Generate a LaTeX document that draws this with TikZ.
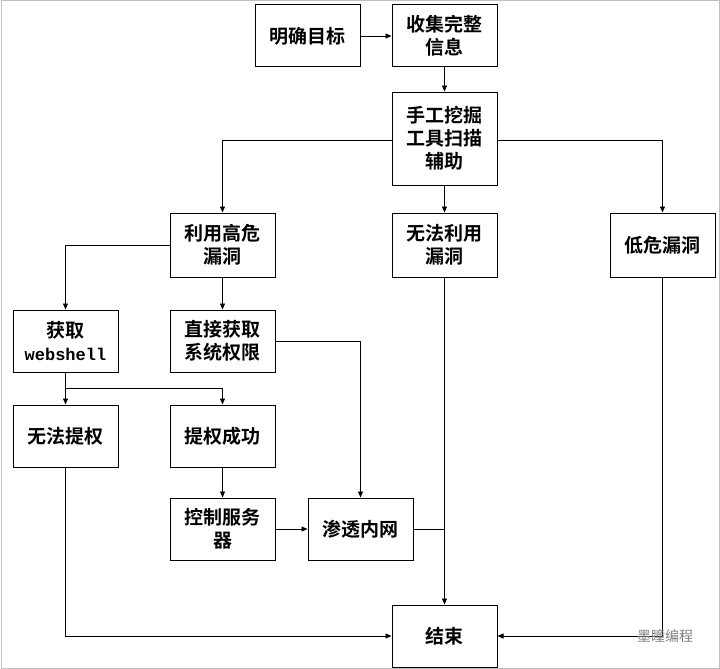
\documentclass[tikz,border=0pt]{standalone}
\usepackage{fontspec}
\newfontfamily\cjk{Noto Sans CJK SC}[BoldFont={* Bold}]
\usetikzlibrary{arrows.meta}
\begin{document}
\begin{tikzpicture}[x=1pt,y=-1pt,
  box/.style={draw,line width=1pt,minimum width=105pt,align=center,font=\cjk\bfseries\fontsize{19}{23}\selectfont,inner sep=2pt},
  ar/.style={-{Triangle[length=6pt,width=5pt]},line width=0.8pt},
  ln/.style={line width=0.8pt}]
\useasboundingbox (0,0) rectangle (720,669);
\draw[gray!50,line width=1pt] (1,1) rectangle (719,668);
\node[box,minimum height=62pt] (a) at (307.5,36) {明确目标};
\node[box,minimum height=62pt] (b) at (444.5,36) {收集完整\\信息};
\node[box,minimum height=93pt] (c) at (444.5,138.5) {手工挖掘\\工具扫描\\辅助};
\node[box,minimum height=64pt] (d) at (222.5,245) {利用高危\\漏洞};
\node[box,minimum height=64pt] (e) at (444.5,245) {无法利用\\漏洞};
\node[box,minimum height=64pt] (f) at (662.5,245) {低危漏洞};
\node[box,minimum height=62pt] (g) at (65.5,341) {获取\\{\fontspec{Liberation Mono}\bfseries\fontsize{17}{21}\selectfont webshell}};
\node[box,minimum height=62pt] (h) at (222.5,341) {直接获取\\系统权限};
\node[box,minimum height=62pt] (i) at (65.5,436) {无法提权};
\node[box,minimum height=62pt] (j) at (222.5,436) {提权成功};
\node[box,minimum height=62pt] (k) at (222.5,529) {控制服务\\器};
\node[box,minimum height=62pt] (l) at (360.5,529) {渗透内网};
\node[box,minimum height=62pt] (m) at (444.5,636) {结束};
\coordinate (cl) at (c.west|-0,140);
\coordinate (cr) at (c.east|-0,140);
\draw[ar] (a) -- (b);
\draw[ar] (b) -- (c);
\draw[ar] (cl) -| (d.north);
\draw[ar] (cr) -| (f.north);
\draw[ar] (c) -- (e);
\draw[ar] (d.west) -| (g.north);
\draw[ar] (d) -- (h);
\draw[ar] (h.east) -| (l.north);
\draw[ar] (g) -- (i);
\coordinate (gj) at (65.5,388);
\draw[ar] (gj) -| (j.north);
\draw[ar] (j) -- (k);
\draw[ar] (k) -- (l);
\draw[ar] (e) -- (m);
\coordinate (lm) at (444.5,529);
\draw[ln] (l.east) -- (lm);
\draw[ar] (i.south) |- (m.west);
\draw[ar] (f.south) |- (m.east);
\node[font=\cjk\fontsize{14}{16}\selectfont,text=gray] (w) at (665,636) {墨瞳编程};
\end{tikzpicture}
\end{document}
